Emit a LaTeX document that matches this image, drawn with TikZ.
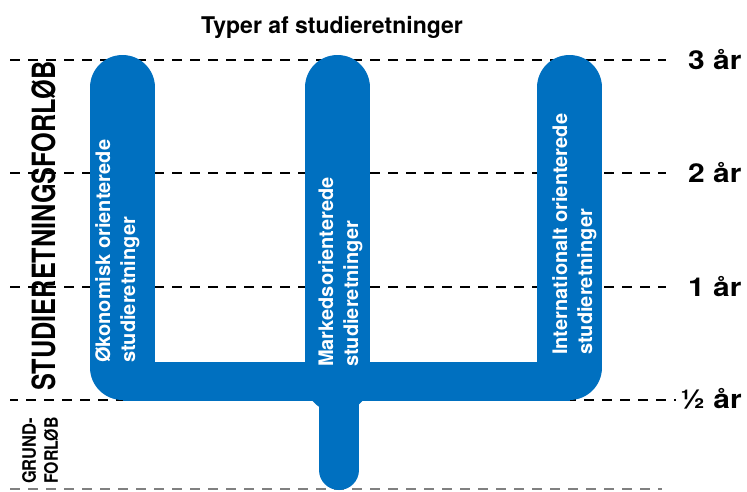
\documentclass[tikz,border=0pt]{standalone}
\usepackage{fontspec}
\setmainfont{TeX Gyre Heros}
\definecolor{colblue}{RGB}{0,112,192}
\begin{document}
\begin{tikzpicture}[x=1pt,y=-1pt,
  gridline/.style={dash pattern=on 10pt off 8pt, line width=2pt, black},
  colbar/.style={colblue, line width=65pt, line cap=round},
  coltext/.style={white, font=\bfseries\fontsize{20}{25}\selectfont, rotate=90, anchor=north west, inner sep=0pt, align=left},
  yearlbl/.style={font=\bfseries\fontsize{26}{30}\selectfont, anchor=west, inner sep=0pt}]
\useasboundingbox (0,0) rectangle (747,491);
\fill[white] (0,0) rectangle (747,491);

% title
\node[font=\bfseries\fontsize{23}{27}\selectfont, anchor=base, inner sep=0pt] (title) at (332,33) {Typer af studieretninger};

% year labels and dashed lines
\node[yearlbl] (y3) at (688,60) {\scalebox{1.15}[1]{3 år}};
\node[yearlbl] (y2) at (688,173) {\scalebox{1.15}[1]{2 år}};
\node[yearlbl] (y1) at (688,287) {\scalebox{1.15}[1]{1 år}};
\node[yearlbl] (yh) at (680,399) {\scalebox{1.15}[1]{½ år}};
\coordinate (s3) at (10,60);
\coordinate (s2) at (10,173);
\coordinate (s1) at (10,287);
\coordinate (sh) at (10,400);
\coordinate (s0) at (10,489);
\coordinate (e0) at (662,489);
\draw[gridline] (s3) -- ([xshift=-22pt]y3.west |- s3);
\draw[gridline] (s2) -- ([xshift=-22pt]y2.west |- s2);
\draw[gridline] (s1) -- ([xshift=-22pt]y1.west |- s1);
\draw[gridline, dash phase=2pt] (sh) -- ([xshift=-4pt]yh.west |- sh);
\draw[gridline, gray] (s0) -- (e0);

% blue trident shape
\draw[colbar] (122.5,87.5) -- (122.5,367.5);
\draw[colbar] (569.5,87.5) -- (569.5,367.5);
\draw[colbar] (337.5,87.5) -- (337.5,380);
\fill[colblue] (337.5-32.5,380) rectangle (337.5+32.5,390);
\fill[colblue] (122.5,362) rectangle (569.5,401);
\draw[colblue, line width=40pt, line cap=round] (339,390) -- (339,470);

% column texts
\node[coltext] (t1) at (95,363) {Økonomisk orienterede\\studieretninger};
\node[coltext] (t2) at (318,367) {Markedsorienterede\\studieretninger};
\node[coltext] (t3) at (552,355) {Internationalt orienterede\\studieretninger};

% left labels
\node[font=\bfseries\fontsize{32}{36}\selectfont, rotate=90, anchor=base west, inner sep=0pt] (studlbl) at (55,391) {\scalebox{0.79}[1]{STUDIERETNINGSFORLØB}};
\node[font=\bfseries\fontsize{18.5}{22}\selectfont, rotate=90, anchor=north west, inner sep=0pt, align=left] (grundlbl) at (22,484) {\scalebox{0.89}[1]{GRUND-}\\\scalebox{0.86}[1]{FORLØB}};
\end{tikzpicture}
\end{document}
